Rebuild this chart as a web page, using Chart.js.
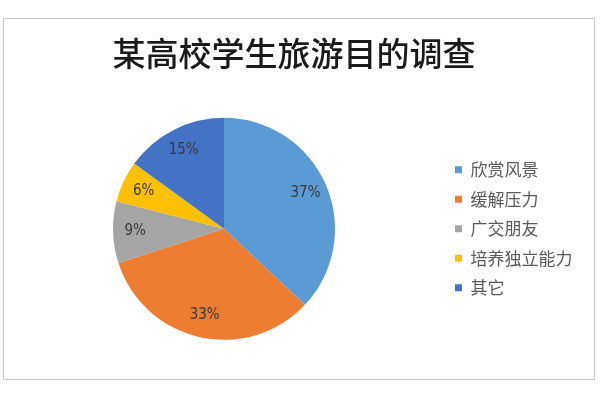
<!DOCTYPE html>
<html>
<head>
<meta charset="utf-8">
<script src="https://cdn.jsdelivr.net/npm/chart.js@4/dist/chart.umd.min.js"></script>
<style>
  html, body { margin: 0; padding: 0; background: #fff; }
  #box {
    position: absolute; left: 3px; top: 18px;
    width: 590px; height: 360px;
    border: 1px solid #c8c8c8;
  }
  canvas { display: block; }
</style>
</head>
<body>
<div id="box"><canvas id="pie" width="590" height="360"></canvas></div>
<script>
// 数据
const categories = ['欣赏风景', '缓解压力', '广交朋友', '培养独立能力', '其它'];
const shares     = [37, 33, 9, 6, 15];
const sliceColors = ['#5B9BD5', '#ED7D31', '#A5A5A5', '#FFC000', '#4472C4'];

const cjk = "'Noto Sans CJK SC', 'Noto Sans', sans-serif";
const narrow = "'Liberation Sans Narrow', 'DejaVu Sans Condensed', 'Liberation Sans', sans-serif";

// 扇区内百分比标签
const sliceLabels = {
  id: 'sliceLabels',
  afterDatasetsDraw(chart) {
    const ctx = chart.ctx;
    const meta = chart.getDatasetMeta(0);
    ctx.save();
    ctx.font = '15px ' + narrow;
    ctx.fillStyle = '#383838';
    ctx.textAlign = 'center';
    ctx.textBaseline = 'middle';
    meta.data.forEach((arc, i) => {
      const p = arc.getProps(['x', 'y', 'startAngle', 'endAngle', 'outerRadius'], true);
      const mid = (p.startAngle + p.endAngle) / 2;
      const r = p.outerRadius * 0.8;
      ctx.fillText(shares[i] + '%', p.x + Math.cos(mid) * r, p.y + Math.sin(mid) * r);
    });
    ctx.restore();
  }
};

new Chart(document.getElementById('pie'), {
  type: 'pie',
  data: {
    labels: categories,
    datasets: [{
      data: shares,
      backgroundColor: sliceColors,
      borderWidth: 0,
      radius: 111,
    }],
  },
  options: {
    responsive: false,
    animation: false,
    layout: { padding: { left: 1.5, right: 11.5, top: 0, bottom: 20 } },
    plugins: {
      title: {
        display: true,
        text: '某高校学生旅游目的调查',
        color: '#1a1a1a',
        font: { family: cjk, size: 33, weight: 500 },
        padding: { top: 15, bottom: 25 },
      },
      legend: {
        position: 'right',
        align: 'center',
        fullSize: false,
        labels: {
          boxWidth: 7,
          boxHeight: 7,
          padding: 12.5,
          color: '#595959',
          font: { family: cjk, size: 17 },
        },
      },
      tooltip: { enabled: false },
    },
  },
  plugins: [sliceLabels],
});
</script>
</body>
</html>
